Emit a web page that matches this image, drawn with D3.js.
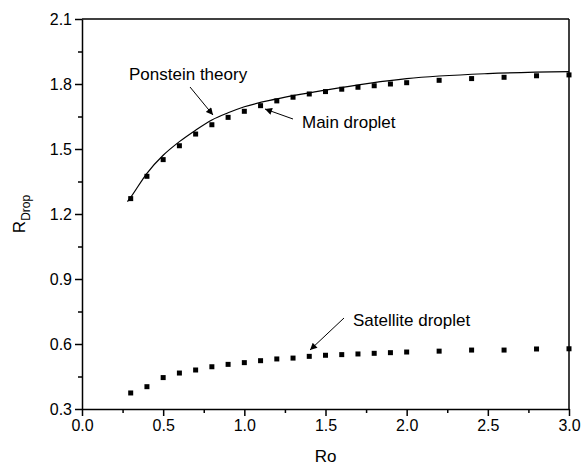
<!DOCTYPE html>
<html>
<head>
<meta charset="utf-8">
<script src="https://cdn.jsdelivr.net/npm/d3@7"></script>
<style>
  html, body { margin: 0; padding: 0; background: #fff; }
  svg { display: block; font-family: "Liberation Sans", Arial, sans-serif; }
</style>
</head>
<body>
<div id="chart"></div>
<script>
// Droplet size vs Ro - main / satellite droplets and Ponstein theory curve
const roMeasured = [0.3, 0.4, 0.5, 0.6, 0.7, 0.8, 0.9, 1.0, 1.1, 1.2, 1.3, 1.4, 1.5, 1.6, 1.7, 1.8, 1.9, 2.0, 2.2, 2.4, 2.6, 2.8, 3.0];
const mainDroplet = [1.271, 1.374, 1.451, 1.515, 1.569, 1.612, 1.646, 1.674, 1.700, 1.722, 1.739, 1.754, 1.765, 1.776, 1.785, 1.792, 1.800, 1.806, 1.817, 1.825, 1.831, 1.838, 1.842];
const satelliteDroplet = [0.374, 0.403, 0.445, 0.466, 0.480, 0.495, 0.506, 0.514, 0.523, 0.531, 0.535, 0.543, 0.548, 0.551, 0.554, 0.557, 0.560, 0.563, 0.567, 0.572, 0.572, 0.577, 0.578];

// Ponstein theory curve
const roTheory = [0.28, 0.3, 0.4, 0.5, 0.6, 0.7, 0.8, 0.9, 1.0, 1.2, 1.5, 2.0, 2.5, 3.0];
const theoryValues = [1.257, 1.277, 1.388, 1.471, 1.534, 1.587, 1.634, 1.667, 1.695, 1.731, 1.772, 1.825, 1.848, 1.857];

const xTicks = [0.0, 0.5, 1.0, 1.5, 2.0, 2.5, 3.0];
const yTicks = [0.3, 0.6, 0.9, 1.2, 1.5, 1.8, 2.1];

const W = 584, H = 470;
const margin = { top: 19, right: 15, bottom: 61, left: 82 };
const width = W - margin.left - margin.right;
const height = H - margin.top - margin.bottom;

const svg = d3.select("#chart").append("svg")
  .attr("width", W)
  .attr("height", H);

// arrow head
svg.append("defs").append("marker")
  .attr("id", "arrow")
  .attr("viewBox", "0 0 10 10")
  .attr("refX", 10)
  .attr("refY", 5)
  .attr("markerWidth", 9)
  .attr("markerHeight", 7)
  .attr("markerUnits", "userSpaceOnUse")
  .attr("orient", "auto")
  .append("path")
  .attr("d", "M0,0 L10,5 L0,10 Z")
  .attr("fill", "#000");

const g = svg.append("g")
  .attr("transform", `translate(${margin.left},${margin.top})`);

const x = d3.scaleLinear().domain([0, 3]).range([0, width]);
const y = d3.scaleLinear().domain([0.3, 2.1]).range([height, 0]);

// minor ticks (halfway between majors)
const xMinor = d3.range(0.25, 3, 0.5);
const yMinor = d3.range(0.45, 2.1, 0.3);

g.append("g")
  .attr("transform", `translate(0,${height})`)
  .call(d3.axisBottom(x).tickValues(xMinor).tickSize(4).tickFormat(""))
  .call(a => a.select(".domain").remove())
  .selectAll("line").attr("stroke-width", 1.5);

g.append("g")
  .call(d3.axisLeft(y).tickValues(yMinor).tickSize(4).tickFormat(""))
  .call(a => a.select(".domain").remove())
  .selectAll("line").attr("stroke-width", 1.5);

const xAxis = g.append("g")
  .attr("transform", `translate(0,${height})`)
  .call(d3.axisBottom(x).tickValues(xTicks).tickSize(7).tickPadding(4).tickSizeOuter(0).tickFormat(d3.format(".1f")));

const yAxis = g.append("g")
  .call(d3.axisLeft(y).tickValues(yTicks).tickSize(7).tickPadding(3).tickSizeOuter(0).tickFormat(d3.format(".1f")));

[xAxis, yAxis].forEach(a => {
  a.selectAll("text").attr("font-size", 16).attr("fill", "#000")
    .style("font-family", "'Liberation Sans', Arial, sans-serif");
  a.selectAll("line").attr("stroke-width", 1.5);
  a.select(".domain").attr("stroke-width", 1.5);
});

// top and right frame
g.append("line").attr("x1", 0).attr("x2", width).attr("y1", 0).attr("y2", 0)
  .attr("stroke", "#000").attr("stroke-width", 1.5);
g.append("line").attr("x1", width).attr("x2", width).attr("y1", 0).attr("y2", height)
  .attr("stroke", "#000").attr("stroke-width", 1.5);

// theory line
const theory = roTheory.map((d, i) => ({ x: d, y: theoryValues[i] }));
g.append("path")
  .datum(theory)
  .attr("fill", "none")
  .attr("stroke", "#000")
  .attr("stroke-width", 1.2)
  .attr("d", d3.line().x(d => x(d.x)).y(d => y(d.y)).curve(d3.curveMonotoneX));

// markers
const sq = 5;
function drawSquares(vals) {
  g.append("g").selectAll("rect")
    .data(roMeasured.map((d, i) => ({ x: d, y: vals[i] })))
    .join("rect")
    .attr("x", d => x(d.x) - sq / 2)
    .attr("y", d => y(d.y) - sq / 2)
    .attr("width", sq)
    .attr("height", sq)
    .attr("fill", "#000");
}
drawSquares(mainDroplet);
drawSquares(satelliteDroplet);

// annotations (in pixel space of the svg)
const notes = [
  { text: "Ponstein theory", tx: 129, ty: 80, from: [190, 87], to: [213, 115] },
  { text: "Main droplet", tx: 302, ty: 128, from: [293, 119], to: [265, 109] },
  { text: "Satellite droplet", tx: 353, ty: 326, from: [344, 318], to: [310, 350] }
];
notes.forEach(n => {
  svg.append("text")
    .attr("x", n.tx).attr("y", n.ty)
    .attr("font-size", 17)
    .text(n.text);
  svg.append("line")
    .attr("x1", n.from[0]).attr("y1", n.from[1])
    .attr("x2", n.to[0]).attr("y2", n.to[1])
    .attr("stroke", "#000").attr("stroke-width", 1)
    .attr("marker-end", "url(#arrow)");
});

// axis titles
svg.append("text")
  .attr("x", margin.left + width / 2)
  .attr("y", 462)
  .attr("text-anchor", "middle")
  .attr("font-size", 17)
  .text("Ro");

const yt = svg.append("text")
  .attr("transform", `translate(25,${margin.top + height / 2}) rotate(-90)`)
  .attr("text-anchor", "middle")
  .attr("font-size", 17);
yt.append("tspan").text("R");
yt.append("tspan").attr("font-size", 12).attr("dy", 5).text("Drop");
</script>
</body>
</html>
